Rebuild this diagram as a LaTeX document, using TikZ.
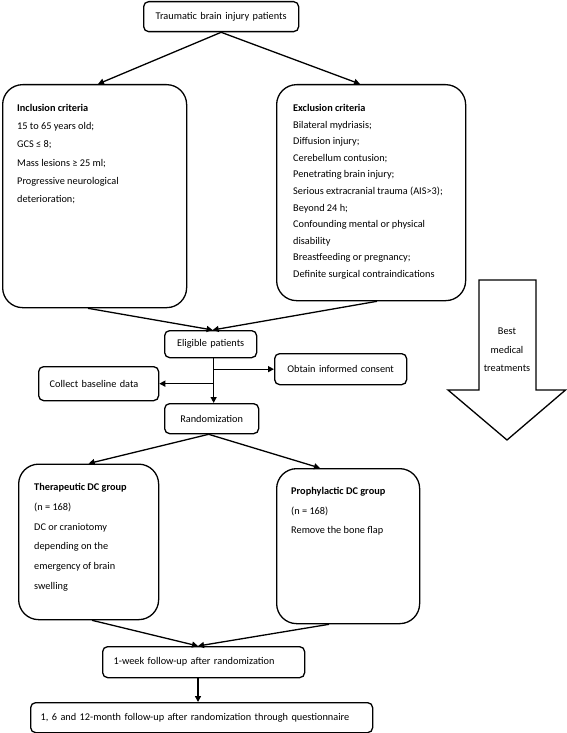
\documentclass[tikz,border=0pt]{standalone}
\usepackage{fontspec}
\setmainfont{Carlito}
\usetikzlibrary{arrows.meta,calc}
\begin{document}
\begin{tikzpicture}[x=1pt,y=-1pt,
  every node/.style={font=\fontsize{10.3}{12}\selectfont},
  sbox/.style={draw, line width=1.3pt, rounded corners=5pt, inner xsep=10pt, inner ysep=0pt, anchor=north west},
  bbox/.style={draw, line width=1.3pt, rounded corners=20pt, anchor=north west, inner sep=0pt},
  txt/.style={anchor=north west, inner sep=0pt, align=left},
  conn/.style={line width=1.3pt, -{Triangle[length=6pt,width=6pt]}},
]
\useasboundingbox (0,0) rectangle (567,733);

% boxes
\node[sbox, minimum width=155pt, minimum height=30pt, text width=135pt, align=center] (tbi) at (143,1) {Traumatic brain injury patients};
\node[bbox, minimum width=184pt, minimum height=223pt] (inc) at (2,84) {};
\node[bbox, minimum width=189pt, minimum height=216pt] (exc) at (276,84) {};
\node[sbox, minimum width=92pt, minimum height=27pt, text width=72pt, align=center] (elig) at (164,330) {Eligible patients};
\node[sbox, minimum width=120pt, minimum height=34pt, inner xsep=11pt, text width=98pt, align=left] (coll) at (38,366) {Collect baseline data};
\node[sbox, minimum width=132pt, minimum height=31pt, text width=112pt, align=center] (obt) at (274,353) {Obtain informed consent};
\node[sbox, minimum width=94pt, minimum height=30pt, text width=74pt, align=center] (rand) at (164,403) {Randomization};
\node[bbox, minimum width=140pt, minimum height=155.5pt] (ther) at (18,463.5) {};
\node[bbox, minimum width=143pt, minimum height=155pt] (pro) at (276,468) {};
\node[sbox, minimum width=202pt, minimum height=31pt, inner xsep=11pt, text width=180pt, align=left] (week) at (102,646) {1-week follow-up after randomization};
\node[sbox, minimum width=342pt, minimum height=30pt, text width=322pt, align=left] (fu) at (30,702) {1, 6 and 12-month follow-up after randomization through questionnaire};

% box texts
\node[txt, font=\fontsize{10.3}{18.2}\selectfont] (inct) at (17,104) {\textbf{Inclusion criteria}\\15 to 65 years old;\\GCS ≤ 8;\\Mass lesions ≥ 25 ml;\\Progressive neurological\\deterioration;};
\node[txt, font=\fontsize{10.3}{16.6}\selectfont] (exct) at (293,104) {\textbf{Exclusion criteria}\\Bilateral mydriasis;\\Diffusion injury;\\Cerebellum contusion;\\Penetrating brain injury;\\Serious extracranial trauma (AIS>3);\\Beyond 24 h;\\Confounding mental or physical\\disability\\Breastfeeding or pregnancy;\\Definite surgical contraindications};
\node[txt, font=\fontsize{10.3}{19.8}\selectfont] (thert) at (34,483) {\textbf{Therapeutic DC group}\\(n = 168)\\DC or craniotomy\\depending on the\\emergency of brain\\swelling};
\node[txt, font=\fontsize{10.3}{19.7}\selectfont] (prot) at (291,487) {\textbf{Prophylactic DC group}\\(n = 168)\\Remove the bone flap};

% best medical treatments block arrow
\draw[line width=1.3pt, fill=white] (479,280) -- (536,280) -- (536,390) -- (565.5,390) -- (507,440) -- (448,390) -- (479,390) -- cycle;
\node[anchor=north, align=center, inner sep=0pt, font=\fontsize{10.3}{18.5}\selectfont] (best) at (507,328) {Best\\medical\\treatments};

% connectors
\draw[conn] (tbi.south) -- ($(inc.north west)+(96,0)$);
\draw[conn] (tbi.south) -- ($(exc.north west)+(84,0)$);
\draw[conn] ($(inc.south west)+(86,0)$) -- ($(elig.north)+(2,0)$);
\draw[conn] ($(exc.south west)+(101,0)$) -- ($(elig.north)+(2,0)$);
\coordinate (v) at ($(elig.south)+(3,0)$);
\draw[conn] (v) -- (v |- rand.north);
\draw[conn] (v |- obt.west) -- (obt.west);
\draw[conn] (v |- coll.east) -- (coll.east);
\draw[conn] ($(rand.south)+(-3,0)$) -- (ther.north);
\draw[conn] ($(rand.south)+(-3,0)$) -- ($(pro.north west)+(44,0)$);
\draw[conn] ($(ther.south west)+(74,0)$) -- ($(week.north west)+(96,0)$);
\draw[conn] ($(pro.south west)+(53,0)$) -- ($(week.north west)+(96,0)$);
\draw[conn] ($(week.south west)+(96,0)$) -- ($(fu.north west)+(168,0)$);
\end{tikzpicture}
\end{document}
